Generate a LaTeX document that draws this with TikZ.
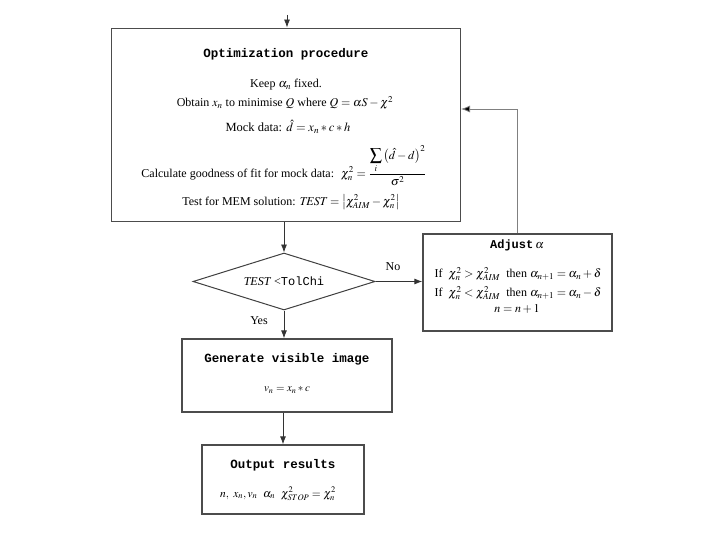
\documentclass[tikz,border=0pt]{standalone}
\usepackage{mathptmx}
\usepackage{fontspec}
\setmainfont{Liberation Serif}
\setmonofont{Liberation Mono}
\usetikzlibrary{shapes.geometric,arrows.meta}
\begin{document}
\begin{tikzpicture}[x=1pt,y=-1pt,
  box/.style={draw=black!70, line width=1.3pt, inner sep=0pt},
  txt/.style={inner sep=0pt, font=\fontsize{12}{14}\selectfont},
  ttl/.style={inner sep=0pt, font=\fontsize{12.5}{14}\selectfont\ttfamily\bfseries},
  arr/.style={draw=black!80, line width=0.8pt, -{Latex[length=8pt,width=6pt]}},
  fbarr/.style={draw=black!50, line width=0.8pt, -{Latex[length=9pt,width=7pt,fill=black]}}]
\useasboundingbox (0,0) rectangle (720,540);
\fill[white] (0,0) rectangle (720,540);

% boxes
\node[box, minimum width=349pt, minimum height=193pt] (main) at (286.3,124.7) {};
\node[box, minimum width=189pt, minimum height=97pt] (adj) at (517.5,282.5) {};
\node[box, minimum width=210pt, minimum height=73pt] (gen) at (287,375.5) {};
\node[box, minimum width=162pt, minimum height=69pt] (out) at (283,479.5) {};
\node[draw=black!75, line width=1pt, diamond, minimum width=182pt, minimum height=57pt, inner sep=0pt] (dia) at (284,281.5) {};

% main box text
\node[ttl] (t1) at (286,54) {Optimization procedure};
\node[txt] (l1) at (286,85) {Keep $\alpha_n$ fixed.};
\node[txt] (l2) at (285,103) {Obtain $x_n$ to minimise $Q$ where $Q=\alpha S-\chi^2$};
\node[txt, font=\fontsize{12.5}{14}\selectfont] (l3) at (288,127) {Mock data: $\hat{d}=x_n*c*h$};
\node[txt] (l4) at (284,166) {Calculate goodness of fit for mock data: \ $\displaystyle \chi_n^2=\frac{\displaystyle\sum_i\left(\hat{d}-d\right)^2}{\sigma^2}$};
\node[txt] (l5) at (291,202) {Test for MEM solution: $\mathit{TEST}=\bigl|\chi^2_{AIM}-\chi^2_n\bigr|$};

% diamond text
\node[txt] (dt) at (284,281.5) {\textit{TEST} <\texttt{TolChi}};
\node[txt] (no) at (393,267) {No};
\node[txt] (yes) at (259,321) {Yes};

% adjust box
\node[ttl, font=\fontsize{12}{14}\selectfont\ttfamily\bfseries] (at) at (517,245) {Adjust\,$\alpha$};
\node[txt, font=\fontsize{12}{13}\selectfont] (a1) at (518,274) {If \ $\chi_n^2>\chi_{AIM}^2$ \ then $\alpha_{n+1}=\alpha_n+\delta$};
\node[txt, font=\fontsize{12}{13}\selectfont] (a2) at (518,293) {If \ $\chi_n^2<\chi_{AIM}^2$ \ then $\alpha_{n+1}=\alpha_n-\delta$};
\node[txt, font=\fontsize{12}{13}\selectfont] (a3) at (517,309) {$n=n+1$};

% generate box
\node[ttl] (gt) at (287,359) {Generate visible image};
\node[txt, font=\fontsize{11}{13}\selectfont] (gf) at (287,390) {$v_n=x_n*c$};

% output box
\node[ttl] (ot) at (283,465) {Output results};
\node[txt, font=\fontsize{11.5}{13}\selectfont] (of) at (278,494) {$n,\ x_n, v_n\ \ \alpha_n\ \ \chi^2_{STOP}=\chi^2_n$};

% connectors
\coordinate (start) at (287,15);
\coordinate (fb) at (461,109);
\draw[arr] (start) -- (start |- main.north);
\draw[arr] (main.south -| dia.north) -- (dia.north);
\draw[arr] (dia.east) -- (adj.west |- dia.east);
\draw[arr] (dia.south) -- (dia.south |- gen.north);
\draw[arr] (gen.south -| out.north) -- (out.north);
\draw[fbarr] (adj.north) |- (fb);
\end{tikzpicture}
\end{document}
